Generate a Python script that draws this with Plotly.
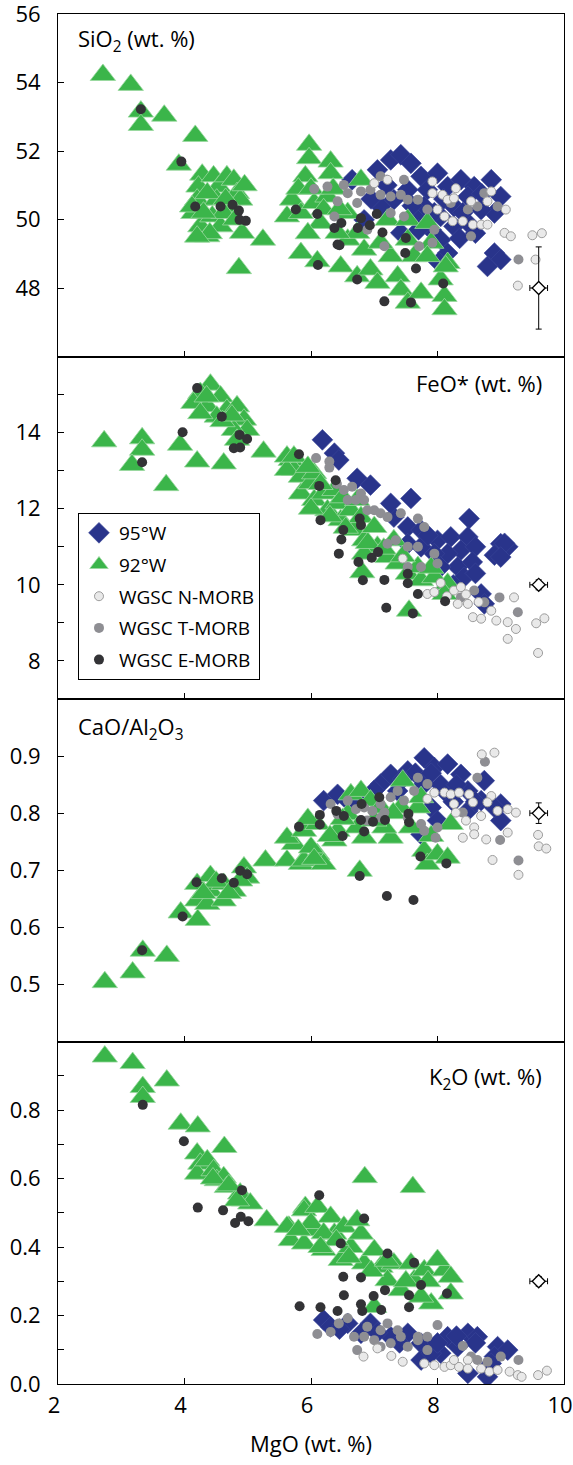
import plotly.graph_objects as go
from plotly.subplots import make_subplots

# ---------------- data (MgO wt.% vs. oxide) ----------------
# Panel 1: SiO2 (wt.%)
si_92_mgo = [2.71, 3.15, 3.31, 3.31, 3.68, 4.17, 3.91, 4.28, 4.22, 4.20, 4.14, 4.25, 4.36, 4.46, 4.54, 4.51, 4.44, 4.57, 4.67, 4.78,
             4.83, 4.73, 4.88, 4.91, 5.24, 4.86, 4.12, 4.36, 4.62, 4.30, 4.40, 4.65, 4.80, 4.95, 4.20,
             5.97, 5.97, 6.31, 6.31, 5.91, 5.70, 5.62, 5.84, 6.05, 6.26, 6.15, 5.84, 6.10, 6.47, 6.58, 6.79, 6.73, 6.84, 6.73, 6.94,
             7.05, 7.21, 7.26, 7.37, 7.42, 7.53, 7.53, 7.63, 7.53, 7.74, 7.84, 7.90, 7.84, 8.16, 8.05, 8.11, 8.11, 6.42, 7.10, 6.58,
             8.13, 5.80, 6.00, 6.20, 5.95, 6.35, 6.45]
si_92_val = [54.22, 53.93, 53.15, 52.76, 53.03, 52.44, 51.60, 51.31, 50.96, 50.58, 50.19, 49.80, 49.51, 51.26, 50.96, 50.58, 50.09, 49.80, 51.26, 51.16,
             50.77, 50.38, 50.58, 49.61, 49.41, 48.58, 50.38, 50.77, 50.19, 50.20, 49.60, 50.60, 50.00, 51.00, 49.50,
             52.18, 51.79, 51.69, 51.35, 51.26, 50.58, 50.09, 50.19, 50.48, 50.67, 49.90, 49.02, 48.78, 48.63, 49.41, 51.16, 49.61, 49.12, 48.34, 48.54,
             48.15, 49.99, 48.93, 48.34, 47.95, 49.99, 49.41, 48.93, 47.57, 47.86, 49.90, 49.32, 48.93, 48.73, 48.25, 47.77, 47.38, 49.61, 49.32, 50.19,
             48.63, 50.90, 50.90, 50.30, 49.60, 50.90, 50.30]
si_95_mgo = [6.65, 7.05, 7.26, 7.42, 7.58, 7.74, 7.53, 7.31, 7.10, 7.84, 8.00, 8.16, 8.37, 8.58, 8.85, 9.00, 8.90, 8.69, 8.48, 8.26,
             8.05, 7.90, 8.05, 8.26, 8.48, 8.16, 7.79, 7.63, 8.90, 9.00, 8.79, 6.84, 7.42,
             7.20, 7.60, 8.10, 8.40, 8.60, 7.95, 8.35, 7.70, 8.70, 6.95, 8.02]
si_95_val = [51.16, 51.45, 51.74, 51.89, 51.64, 51.26, 50.87, 50.58, 50.38, 50.87, 51.35, 50.96, 51.16, 50.96, 51.16, 50.67, 50.19, 50.29, 50.67, 50.38,
             50.09, 49.70, 49.41, 49.80, 49.90, 49.02, 50.38, 50.09, 49.02, 48.83, 48.63, 49.99, 49.61,
             51.00, 50.40, 50.60, 50.20, 49.60, 50.20, 49.45, 49.70, 50.75, 50.60, 48.75]
si_t_mgo = [6.05, 6.26, 6.52, 6.58, 6.79, 6.94, 7.10, 7.26, 7.42, 7.53, 7.69, 7.47, 7.10, 6.73, 6.42, 6.37, 6.89, 7.16, 7.71, 7.92,
            7.95, 7.84, 8.48, 8.63, 8.74, 8.95, 9.28, 8.53, 8.21, 7.47, 7.26]
si_t_val = [50.89, 50.96, 51.01, 50.77, 50.82, 50.87, 50.72, 50.67, 50.72, 50.58, 50.58, 51.16, 51.26, 50.48, 50.53, 50.09, 49.70, 49.22, 49.22, 49.32,
            49.70, 50.29, 50.29, 50.38, 50.77, 50.38, 48.83, 49.51, 50.48, 50.09, 50.19]
si_n_mgo = [7.00, 7.21, 7.92, 8.29, 7.92, 8.08, 8.16, 8.26, 8.53, 8.85, 8.79, 9.08, 8.00, 8.11, 8.24, 8.40, 8.56, 8.69, 8.79, 9.06,
            9.16, 9.27, 9.50, 9.65, 9.55]
si_n_val = [51.06, 51.16, 51.11, 50.91, 50.77, 50.72, 50.58, 50.62, 50.53, 50.82, 50.53, 50.29, 50.29, 50.09, 49.95, 49.95, 49.85, 49.85, 49.85, 49.61,
            49.51, 48.07, 49.54, 49.60, 48.83]
si_e_mgo = [3.31, 3.95, 4.17, 4.57, 4.76, 4.86, 4.87, 4.97, 5.76, 6.10, 6.37, 6.48, 6.79, 6.74, 6.93, 7.04, 7.13, 6.42, 6.45, 6.11,
            6.73, 7.16, 7.50, 7.49, 7.66, 7.58, 8.09]
si_e_val = [53.22, 51.69, 50.38, 50.38, 50.43, 50.26, 49.99, 49.96, 50.29, 50.16, 49.75, 49.90, 50.04, 49.75, 49.83, 50.16, 49.62, 49.27, 49.25, 48.67,
            48.25, 47.61, 49.46, 49.02, 48.57, 47.58, 48.13]

# Panel 2: FeO* (wt.%)
fe_92_mgo = [2.73, 3.33, 3.33, 3.17, 3.93, 4.20, 4.62, 3.71, 5.25, 4.41, 4.25, 4.14, 4.36, 4.57, 4.67, 4.51, 4.83, 4.94, 4.99, 4.78,
             4.83, 4.25, 5.68, 5.73, 4.60, 4.75, 4.35,
             5.62, 5.62, 5.84, 5.84, 5.99, 6.05, 6.20, 6.26, 6.42, 6.47, 6.63, 6.68, 6.79, 6.84, 7.00, 7.05, 7.21, 7.31, 7.37, 7.53,
             7.69, 7.74, 7.95, 8.16, 8.11, 6.81, 7.55, 5.73, 6.05, 6.37, 6.73, 6.84,
             6.00, 6.30, 6.55, 6.90, 7.15, 7.45, 7.90, 6.15, 6.50, 5.95]
fe_92_val = [13.77, 13.85, 13.55, 13.15, 13.68, 13.24, 13.19, 12.62, 13.50, 15.26, 15.04, 14.78, 14.69, 14.95, 14.60, 14.42, 14.69, 14.34, 14.07, 14.07,
             13.81, 14.51, 13.28, 13.02, 14.30, 14.45, 14.95,
             13.37, 13.02, 12.84, 12.40, 12.67, 12.23, 12.40, 11.96, 12.14, 11.70, 11.96, 11.44, 11.78, 11.17, 11.52, 11.00, 10.73, 11.17, 10.56, 10.29,
             10.47, 10.12, 10.20, 10.03, 9.76, 10.33, 9.32, 13.37, 12.93, 12.49, 12.23, 10.82,
             12.00, 11.80, 11.50, 11.10, 10.95, 10.75, 10.45, 12.65, 12.30, 13.10]
fe_95_mgo = [6.18, 6.37, 6.44, 6.73, 6.94, 7.58, 8.50, 9.00, 8.90, 9.11, 7.31, 7.53, 7.74, 8.00, 8.21, 8.48, 8.37, 8.16, 7.95, 7.74,
             7.53, 8.32, 8.42, 8.69, 8.74, 7.26, 8.05, 9.06, 9.00, 8.60, 8.55, 8.25, 7.85, 8.60]
fe_95_val = [13.81, 13.46, 13.28, 12.80, 12.62, 12.27, 11.74, 11.08, 10.78, 11.00, 11.78, 11.52, 11.44, 11.17, 11.26, 11.26, 10.91, 10.82, 10.82, 11.00,
             11.08, 10.47, 10.20, 9.76, 9.50, 12.14, 10.47, 11.09, 10.73, 11.00, 10.60, 10.00, 11.30, 10.30]
fe_t_mgo = [6.08, 6.29, 6.29, 6.41, 6.52, 6.65, 6.79, 6.58, 6.71, 6.84, 7.00, 7.10, 7.21, 7.42, 7.69, 7.79, 7.34, 7.53, 7.69, 7.95,
            8.00, 7.53, 7.74, 7.21, 8.58, 8.74, 8.98, 9.27, 6.89, 8.37]
fe_t_val = [13.33, 13.24, 13.08, 12.65, 12.49, 12.58, 12.40, 12.23, 12.23, 12.23, 11.96, 11.88, 11.78, 11.88, 11.74, 11.52, 11.17, 11.00, 11.00, 10.82,
            10.56, 10.47, 10.47, 11.08, 9.85, 9.54, 9.67, 9.28, 11.96, 9.67]
fe_n_mgo = [7.45, 7.84, 7.95, 8.26, 8.37, 8.32, 8.48, 8.56, 8.69, 8.85, 8.93, 9.11, 9.21, 9.24, 9.11, 9.56, 9.69, 9.59,
            8.15, 8.45, 8.65, 8.05]
fe_n_val = [10.69, 9.76, 9.81, 9.85, 9.94, 9.50, 9.50, 9.15, 9.11, 9.32, 9.06, 9.02, 9.67, 8.84, 8.58, 8.99, 9.12, 8.21,
            9.70, 9.75, 9.55, 10.05]
fe_e_mgo = [4.20, 4.59, 3.97, 3.33, 4.87, 4.99, 4.78, 4.88, 5.81, 6.39, 6.13, 6.15, 6.51, 6.48, 6.44, 6.77, 6.79, 6.75, 6.96, 7.06,
            7.16, 6.82, 7.53, 7.53, 7.69, 7.19, 7.61, 8.12]
fe_e_val = [15.17, 14.42, 14.01, 13.22, 13.94, 13.83, 13.59, 13.61, 13.43, 12.75, 12.60, 11.70, 11.44, 11.19, 10.82, 11.74, 11.57, 10.60, 10.71, 10.86,
            10.13, 10.12, 10.29, 10.04, 9.76, 9.40, 9.25, 9.57]

# Panel 3: CaO/Al2O3
ca_92_mgo = [2.74, 3.18, 3.34, 3.72, 3.94, 4.21, 4.20, 4.20, 4.41, 4.41, 4.36, 4.62, 4.62, 4.78, 4.94, 4.99, 4.88, 5.28, 5.62, 5.84,
             5.73, 4.50, 4.30, 4.70,
             5.62, 5.89, 5.89, 6.10, 6.10, 6.20, 6.37, 6.42, 6.63, 6.58, 6.73, 6.84, 6.79, 6.94, 7.10, 7.26, 7.16, 7.45, 7.42, 7.58,
             7.69, 7.79, 7.84, 8.00, 8.16, 8.21, 7.74, 6.77, 7.00, 6.00, 6.30, 6.50, 5.95, 7.30, 7.90, 6.05]
ca_92_val = [0.504, 0.521, 0.559, 0.550, 0.626, 0.613, 0.676, 0.647, 0.690, 0.664, 0.641, 0.676, 0.647, 0.664, 0.705, 0.687, 0.682, 0.717, 0.717, 0.711,
             0.746, 0.680, 0.660, 0.660,
             0.757, 0.769, 0.717, 0.781, 0.728, 0.711, 0.752, 0.769, 0.833, 0.798, 0.775, 0.757, 0.839, 0.822, 0.810, 0.757, 0.775, 0.857, 0.810, 0.775,
             0.810, 0.734, 0.711, 0.728, 0.722, 0.781, 0.828, 0.699, 0.787, 0.740, 0.760, 0.790, 0.790, 0.800, 0.760, 0.720]
ca_95_mgo = [6.20, 6.42, 6.84, 7.10, 7.26, 7.53, 7.79, 7.95, 8.16, 8.37, 8.16, 8.48, 8.74, 8.69, 9.00, 9.00, 8.90, 8.48, 7.90, 8.00,
             7.74, 7.37, 7.79, 7.65, 8.05, 8.30, 8.60, 7.45, 8.25, 7.00, 6.60, 7.90]
ca_95_val = [0.822, 0.833, 0.830, 0.851, 0.868, 0.874, 0.897, 0.880, 0.886, 0.868, 0.833, 0.839, 0.857, 0.822, 0.816, 0.787, 0.810, 0.804, 0.810, 0.787,
             0.763, 0.839, 0.851, 0.870, 0.850, 0.850, 0.820, 0.860, 0.820, 0.840, 0.820, 0.870]
ca_t_mgo = [6.31, 6.42, 6.58, 6.71, 6.84, 6.97, 7.10, 7.16, 7.26, 7.37, 7.47, 7.63, 7.69, 7.84, 7.53, 7.74, 8.00, 7.97, 7.79, 8.40,
            8.63, 8.75, 8.99, 9.28, 7.10, 6.89]
ca_t_val = [0.816, 0.798, 0.822, 0.807, 0.810, 0.804, 0.816, 0.801, 0.828, 0.839, 0.822, 0.839, 0.862, 0.851, 0.792, 0.781, 0.775, 0.757, 0.769, 0.801,
            0.862, 0.890, 0.753, 0.717, 0.792, 0.787]
ca_n_mgo = [8.70, 8.90, 7.95, 8.11, 8.21, 8.34, 8.50, 8.26, 8.56, 8.85, 8.79, 8.29, 8.45, 8.58, 8.69, 8.95, 9.11, 9.24, 8.40, 8.58,
            8.77, 9.11, 8.87, 9.28, 7.84, 9.59, 9.60, 9.72]
ca_n_val = [0.903, 0.906, 0.836, 0.836, 0.833, 0.836, 0.833, 0.816, 0.819, 0.830, 0.819, 0.801, 0.787, 0.775, 0.795, 0.804, 0.807, 0.801, 0.757, 0.763,
            0.754, 0.766, 0.718, 0.692, 0.825, 0.762, 0.742, 0.738]
ca_e_mgo = [3.33, 3.97, 4.19, 4.59, 4.78, 4.88, 4.99, 5.81, 6.14, 6.14, 6.40, 6.50, 6.52, 6.80, 6.79, 6.84, 6.98, 7.08, 7.17, 7.54,
            7.55, 6.77, 7.20, 7.62, 7.73, 8.14]
ca_e_val = [0.560, 0.619, 0.679, 0.686, 0.678, 0.699, 0.693, 0.776, 0.797, 0.780, 0.804, 0.760, 0.795, 0.816, 0.788, 0.768, 0.785, 0.828, 0.788, 0.799,
            0.784, 0.690, 0.655, 0.648, 0.724, 0.712]

# Panel 4: K2O (wt.%)
k_92_mgo = [2.74, 3.18, 3.34, 3.34, 3.72, 3.94, 4.21, 4.63, 4.20, 4.25, 4.20, 4.36, 4.46, 4.51, 4.62, 4.67, 4.88, 4.94, 5.04, 4.83,
            5.30, 5.65, 5.91, 4.45, 4.70,
            5.62, 5.68, 5.89, 5.89, 6.05, 6.10, 6.20, 6.31, 6.37, 6.52, 6.47, 6.63, 6.79, 6.84, 7.00, 7.10, 7.21, 7.31, 7.42, 7.58,
            7.63, 7.79, 7.90, 7.74, 8.11, 8.21, 8.21, 7.00, 7.61, 6.85, 8.00, 6.73,
            6.00, 6.20, 6.40, 6.60, 6.95, 7.20, 7.50, 7.85, 6.15, 5.80]
k_92_val = [0.956, 0.937, 0.867, 0.838, 0.886, 0.760, 0.752, 0.692, 0.673, 0.643, 0.614, 0.653, 0.624, 0.595, 0.604, 0.575, 0.556, 0.536, 0.527, 0.536,
            0.478, 0.459, 0.517, 0.600, 0.580,
            0.459, 0.420, 0.507, 0.410, 0.449, 0.517, 0.391, 0.488, 0.439, 0.459, 0.362, 0.400, 0.439, 0.352, 0.391, 0.342, 0.303, 0.352, 0.274, 0.352,
            0.303, 0.332, 0.235, 0.255, 0.332, 0.313, 0.264, 0.225, 0.575, 0.604, 0.362, 0.478,
            0.470, 0.440, 0.420, 0.370, 0.330, 0.360, 0.300, 0.300, 0.400, 0.450]
k_95_mgo = [6.20, 6.31, 6.58, 6.94, 7.26, 7.53, 7.74, 8.16, 8.48, 8.63, 8.32, 8.05, 8.95, 9.11, 8.90, 7.74, 8.48, 8.79, 6.79, 7.90,
            8.30, 8.60, 8.00, 7.40, 6.45, 7.05, 8.85]
k_95_val = [0.187, 0.167, 0.177, 0.177, 0.138, 0.148, 0.119, 0.138, 0.148, 0.138, 0.109, 0.090, 0.109, 0.099, 0.080, 0.070, 0.031, 0.021, 0.148, 0.090,
            0.140, 0.120, 0.120, 0.120, 0.160, 0.150, 0.060]
k_t_mgo = [6.10, 6.31, 6.44, 6.58, 6.68, 6.84, 7.00, 7.10, 7.21, 7.26, 7.42, 7.53, 7.69, 7.84, 8.00, 7.69, 8.40, 8.63, 8.79, 9.00,
           9.28, 6.89, 7.10, 7.37, 7.84, 8.53, 6.73]
k_t_val = [0.146, 0.152, 0.177, 0.192, 0.138, 0.138, 0.128, 0.157, 0.177, 0.119, 0.138, 0.109, 0.128, 0.099, 0.172, 0.138, 0.111, 0.070, 0.065, 0.080,
           0.070, 0.167, 0.109, 0.157, 0.138, 0.080, 0.099]
k_n_mgo = [6.83, 7.27, 7.45, 7.79, 7.95, 8.11, 8.21, 8.34, 8.48, 8.48, 8.69, 8.82, 8.95, 9.14, 9.27, 7.05, 8.26, 9.33, 9.59, 9.73]
k_n_val = [0.080, 0.082, 0.065, 0.060, 0.055, 0.050, 0.055, 0.050, 0.070, 0.045, 0.045, 0.036, 0.041, 0.036, 0.026, 0.104, 0.070, 0.021, 0.026, 0.039]
k_e_mgo = [3.34, 3.99, 4.21, 4.61, 4.91, 4.89, 4.80, 5.01, 5.82, 6.13, 6.84, 6.47, 7.21, 7.63, 6.51, 6.79, 7.74, 8.15, 7.17, 7.55,
           6.99, 6.52, 7.55, 6.79, 6.81, 6.15, 6.42, 7.11]
k_e_val = [0.815, 0.709, 0.515, 0.507, 0.566, 0.488, 0.470, 0.475, 0.227, 0.551, 0.483, 0.410, 0.381, 0.354, 0.313, 0.311, 0.289, 0.264, 0.274, 0.259,
           0.257, 0.259, 0.224, 0.233, 0.213, 0.224, 0.213, 0.216]

# representative analytical uncertainty (2 sigma) symbols
err_mgo = [9.6, 9.6, 9.6, 9.6]
err_val = [48.0, 10.0, 0.80, 0.30]
err_mgo_sd = [0.14, 0.14, 0.14, 0.14]
err_val_sd = [1.2, 0.13, 0.018, 0.014]

panel_titles = ["SiO<sub>2</sub> (wt. %)", "FeO* (wt. %)", "CaO/Al<sub>2</sub>O<sub>3</sub>", "K<sub>2</sub>O (wt. %)"]
series_names = ["95°W", "92°W", "WGSC N-MORB", "WGSC T-MORB", "WGSC E-MORB"]
x_ticks = [2, 4, 6, 8, 10]

# ---------------- styles ----------------
styles = {
    "95°W": dict(symbol="diamond", size=16, color="#29348b", line=dict(width=0.6, color="#3a4699")),
    "92°W": dict(symbol="triangle-up", size=22, color="#3bb54a", line=dict(width=0.8, color="#9ad8a0")),
    "WGSC N-MORB": dict(symbol="circle", size=9, color="#e9e9e9", line=dict(width=1, color="#9c9c9c")),
    "WGSC T-MORB": dict(symbol="circle", size=10, color="#8e8e93", line=dict(width=0)),
    "WGSC E-MORB": dict(symbol="circle", size=10, color="#333336", line=dict(width=0)),
}
rank = {n: i for i, n in enumerate(series_names)}
draw_order = ["95°W", "92°W", "WGSC T-MORB", "WGSC N-MORB", "WGSC E-MORB"]

panels = [
    {"95°W": (si_95_mgo, si_95_val), "92°W": (si_92_mgo, si_92_val), "WGSC N-MORB": (si_n_mgo, si_n_val),
     "WGSC T-MORB": (si_t_mgo, si_t_val), "WGSC E-MORB": (si_e_mgo, si_e_val)},
    {"95°W": (fe_95_mgo, fe_95_val), "92°W": (fe_92_mgo, fe_92_val), "WGSC N-MORB": (fe_n_mgo, fe_n_val),
     "WGSC T-MORB": (fe_t_mgo, fe_t_val), "WGSC E-MORB": (fe_e_mgo, fe_e_val)},
    {"95°W": (ca_95_mgo, ca_95_val), "92°W": (ca_92_mgo, ca_92_val), "WGSC N-MORB": (ca_n_mgo, ca_n_val),
     "WGSC T-MORB": (ca_t_mgo, ca_t_val), "WGSC E-MORB": (ca_e_mgo, ca_e_val)},
    {"95°W": (k_95_mgo, k_95_val), "92°W": (k_92_mgo, k_92_val), "WGSC N-MORB": (k_n_mgo, k_n_val),
     "WGSC T-MORB": (k_t_mgo, k_t_val), "WGSC E-MORB": (k_e_mgo, k_e_val)},
]

fig = make_subplots(rows=4, cols=1, shared_xaxes=True, vertical_spacing=0)

for p, data in enumerate(panels):
    row = p + 1
    for name in draw_order:
        xs, ys = data[name]
        fig.add_trace(go.Scatter(
            x=xs, y=ys, mode="markers", name=name,
            marker=styles[name], legendgroup=name, legendrank=rank[name] + 1,
            showlegend=(p == 0), hoverinfo="x+y+name"), row=row, col=1)
    fig.add_trace(go.Scatter(
        x=[err_mgo[p]], y=[err_val[p]], mode="markers", showlegend=False,
        marker=dict(symbol="diamond", size=10, color="white", line=dict(width=1.3, color="black")),
        error_x=dict(type="data", array=[err_mgo_sd[p]], color="black", thickness=1, width=3),
        error_y=dict(type="data", array=[err_val_sd[p]], color="black", thickness=1, width=3)),
        row=row, col=1)

FONT = "Open Sans"
TICKFONT = dict(family=FONT, size=22, color="black")
for r in range(1, 5):
    fig.update_xaxes(range=[2, 10], tickvals=x_ticks, ticks="inside", ticklen=6, tickcolor="black",
                     showline=True, linecolor="black", linewidth=1, mirror=True, showgrid=False,
                     zeroline=False, tickfont=TICKFONT, automargin=False, row=r, col=1)
fig.update_xaxes(showticklabels=True, ticklabelstandoff=2, ticklabelshift=-4, ticklabeloverflow="allow",
                 title=dict(text="MgO (wt. %)", font=dict(family=FONT, size=22), standoff=18), row=4, col=1)

yspecs = [
    dict(range=[46, 56], tickvals=[48, 50, 52, 54, 56], minor=None, fmt=""),
    dict(range=[7, 16], tickvals=[8, 10, 12, 14], minor=[9, 11, 13, 15], fmt=""),
    dict(range=[0.4, 1.0], tickvals=[0.5, 0.6, 0.7, 0.8, 0.9], minor=None, fmt=".1f"),
    dict(range=[0, 1.0], tickvals=[0, 0.2, 0.4, 0.6, 0.8], minor=[0.1, 0.3, 0.5, 0.7, 0.9], fmt=".1f"),
]
for r, s in enumerate(yspecs, start=1):
    kw = dict(range=s["range"], tickvals=s["tickvals"], ticks="inside", ticklen=6, tickcolor="black",
              showline=True, linecolor="black", linewidth=1, mirror=True, showgrid=False, zeroline=False,
              tickfont=TICKFONT, ticklabelstandoff=12, tickformat=s["fmt"], automargin=False,
              ticklabeloverflow="allow")
    if s["minor"]:
        kw["minor"] = dict(tickvals=s["minor"], ticks="inside", ticklen=6, tickcolor="black", showgrid=False)
    fig.update_yaxes(row=r, col=1, **kw)

ann_font = dict(family=FONT, size=22, color="black")
ann_pos = [(0.036, 0.981, "left"), (0.96, 0.7307, "right"), (0.036, 0.4788, "left"), (0.96, 0.2234, "right")]
for text, (ax, ay, anc) in zip(panel_titles, ann_pos):
    fig.add_annotation(text=text, xref="paper", yref="paper", x=ax, y=ay, xanchor=anc, yanchor="middle",
                       showarrow=False, font=ann_font)

fig.update_layout(
    width=573, height=1465,
    margin=dict(l=58, r=9, t=14, b=81, autoexpand=False),
    plot_bgcolor="white", paper_bgcolor="white",
    font=dict(family=FONT, size=18, color="black"),
    legend=dict(x=0.0395, y=0.6358, xanchor="left", yanchor="top", bordercolor="black", borderwidth=1,
                bgcolor="white", font=dict(family=FONT, size=19, color="black"), tracegroupgap=4),
)

# remove the browser's default 8px page margin so the figure sits at the window origin
fig.write_html("out.html", config={"displayModeBar": False},
               post_script="document.body.style.margin='0';document.body.style.overflow='hidden';")
